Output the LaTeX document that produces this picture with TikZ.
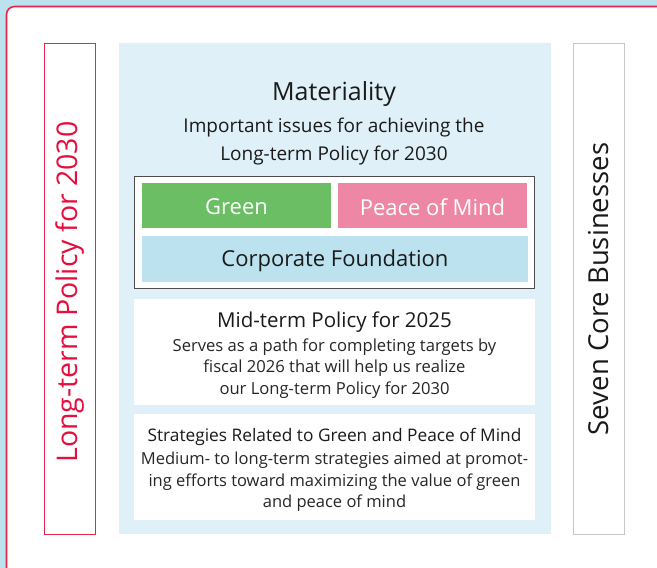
\documentclass[tikz,border=0pt]{standalone}
\usepackage{fontspec}
\setmainfont{Open Sans}
\definecolor{outerbg}{HTML}{BCE2F0}
\definecolor{panel}{HTML}{DFF0F8}
\definecolor{frred}{HTML}{E8264A}
\definecolor{txred}{HTML}{E50E3C}
\definecolor{grn}{HTML}{6BBE64}
\definecolor{pnk}{HTML}{EE86A5}
\definecolor{corp}{HTML}{BCE2F0}
\definecolor{txt}{HTML}{1A1A1A}
\begin{document}
\begin{tikzpicture}[x=1pt,y=-1pt,
  box/.style={draw=none,fill=white},
  lbl/.style={inner sep=0pt,text=txt,align=center},
  cat/.style={inner sep=0pt,font=\fontsize{22}{26}\selectfont}]
\useasboundingbox (0,0) rectangle (657,568);
\fill[outerbg] (0,0) rectangle (657,568);
\draw[frred,line width=1.6pt,fill=white,rounded corners=8pt] (6.5,6.5) rectangle (680,590);
% side boxes
\draw[frred,line width=1.2pt,fill=white] (44.5,43.5) rectangle (95.5,534.5);
\node[rotate=90,text=txred,inner sep=0pt,font=\fontsize{28.5}{32}\selectfont] (lt) at (70,292) {Long-term Policy for 2030};
\draw[black!22,line width=1.2pt,fill=white] (573.5,43.5) rectangle (624.5,534.5);
\node[rotate=90,text=txt,inner sep=0pt,font=\fontsize{27.5}{32}\selectfont] (sc) at (599,289) {Seven Core Businesses};
% panel
\fill[panel] (119,43) rectangle (551,534);
\node[lbl,font=\fontsize{25}{30}\selectfont] (mat) at (334,94) {Materiality};
\node[lbl,font=\fontsize{19}{28}\selectfont] (matd) at (334,142) {Important issues for achieving the\\Long-term Policy for 2030};
% materiality box
\draw[black!70,line width=0.8pt,fill=white] (134.5,176.5) rectangle (534.5,288.5);
\fill[grn] (142,183) rectangle (331,228);
\node[cat,text=white] (g) at (236.5,207) {Green};
\fill[pnk] (338,183) rectangle (527,228);
\node[cat,text=white] (p) at (432.5,207) {Peace of Mind};
\fill[corp] (142,236) rectangle (528,282);
\node[cat,text=txt] (cf) at (335,261) {Corporate Foundation};
% mid-term
\fill[white] (134,299) rectangle (535,405);
\node[lbl,font=\fontsize{20.5}{24}\selectfont] (mt) at (334.5,322) {Mid-term Policy for 2025};
\node[lbl,font=\fontsize{16.6}{21.3}\selectfont,text=black!85] (mtd) at (334.5,368.5) {Serves as a path for completing targets by\\fiscal 2026 that will help us realize\\our Long-term Policy for 2030};
% strategies
\fill[white] (134,414) rectangle (535,520);
\node[lbl,font=\fontsize{17.3}{20}\selectfont] (st) at (334.5,437) {Strategies Related to Green and Peace of Mind};
\node[lbl,font=\fontsize{16.5}{21.3}\selectfont,text=black!85] (std) at (334.5,482) {Medium- to long-term strategies aimed at promot-\\ing efforts toward maximizing the value of green\\and peace of mind};
\end{tikzpicture}
\end{document}
